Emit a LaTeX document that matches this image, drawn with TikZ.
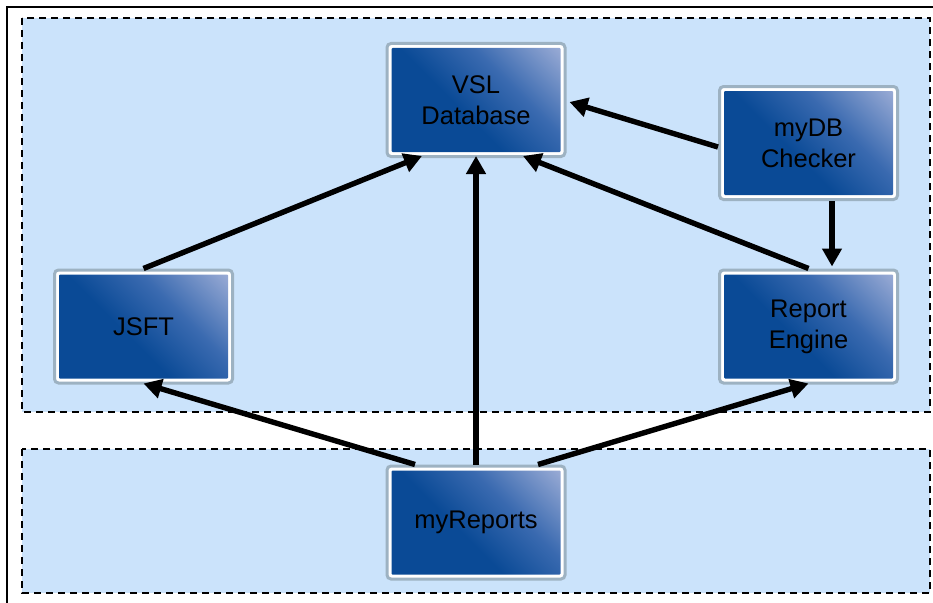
\documentclass[tikz,border=0pt]{standalone}
\usepackage{fontspec}
\setmainfont{Liberation Sans}
\usetikzlibrary{arrows.meta}
\definecolor{regionfill}{HTML}{CBE3FB}
\definecolor{framegray}{HTML}{9DB2C2}
\definecolor{bdark}{HTML}{0A4A96}
\definecolor{bmid}{HTML}{3A6AB0}
\definecolor{blight}{HTML}{AEB9DD}
\pgfdeclarehorizontalshading{boxshade}{100bp}{color(0bp)=(bdark); color(44bp)=(bdark); color(62bp)=(bmid); color(88bp)=(blight); color(100bp)=(blight)}
\tikzset{
  region/.style={fill=regionfill, draw=black, line width=2pt, dash pattern=on 7pt off 5pt},
  box/.style={draw=framegray, line width=3pt, rounded corners=4pt, fill=white,
    minimum width=178pt, minimum height=113pt, inner sep=0pt, align=center,
    font=\fontsize{25.5}{31}\selectfont,
    path picture={\shade[shading=boxshade, shading angle=45, rounded corners=1pt]
      ([shift={(4.5pt,4.5pt)}]path picture bounding box.south west) rectangle
      ([shift={(-4.5pt,-4.5pt)}]path picture bounding box.north east);}},
  arr/.style={line width=5.4pt, -{Triangle[length=18pt,width=19pt]}}
}
\begin{document}
\begin{tikzpicture}[x=1pt,y=-1pt]
\useasboundingbox (0,0) rectangle (933,602);
\draw[line width=2pt] (7,604) -- (7,7) -- (936,7);
\draw[region] (22,18) rectangle (930,412);
\draw[region] (22,449) rectangle (930,593);
\node[box] (vsl) at (476,100) {VSL\\Database};
\node[box] (mydb) at (808.5,143) {myDB\\Checker};
\node[box] (jsft) at (143.5,326.5) {JSFT};
\node[box] (re) at (808.5,326.5) {Report\\Engine};
\node[box] (rep) at (476,522.5) {myReports};
\draw[arr] (jsft.north) -- ([xshift=-54pt,yshift=2pt]vsl.south);
\draw[arr] (rep.north) -- ([yshift=2pt]vsl.south);
\draw[arr] (re.north) -- ([xshift=47pt,yshift=2pt]vsl.south);
\draw[arr] ([yshift=-4pt]mydb.west) -- ([xshift=3pt,yshift=-2pt]vsl.east);
\draw[arr] ([xshift=23.5pt]mydb.south) -- ([xshift=23.5pt,yshift=2pt]re.north);
\draw[arr] ([xshift=-61pt]rep.north) -- ([yshift=1pt]jsft.south);
\draw[arr] ([xshift=62pt]rep.north) -- ([yshift=1pt]re.south);
\end{tikzpicture}
\end{document}
